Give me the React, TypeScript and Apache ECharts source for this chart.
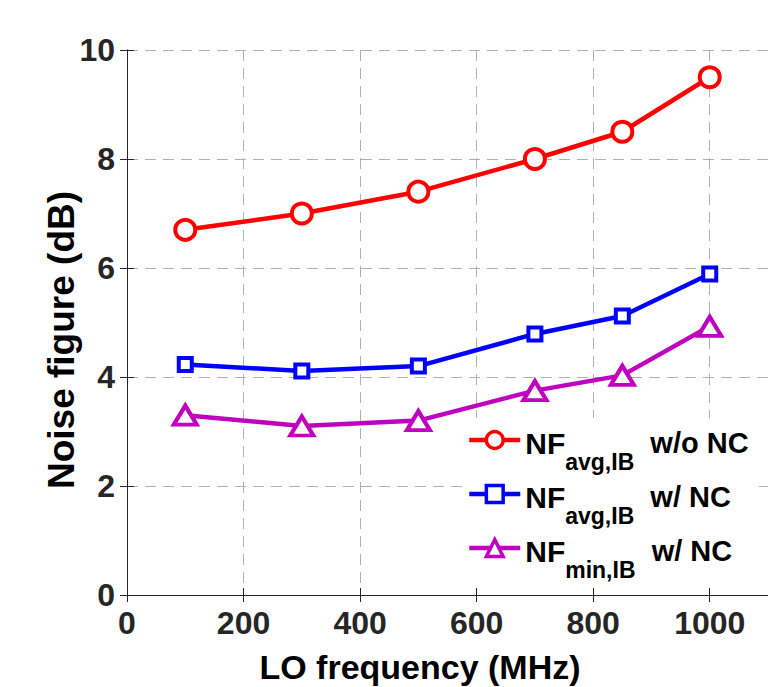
import React, { useEffect, useRef } from "react";
import * as echarts from "echarts";

const loFreq = [100, 300, 500, 700, 850, 1000];
const nfAvgNoNC = [6.7, 7.0, 7.4, 8.0, 8.5, 9.5];
const nfAvgNC = [4.23, 4.11, 4.2, 4.79, 5.12, 5.89];
const nfMinNC = [3.3, 3.1, 3.2, 3.75, 4.03, 4.93];

const seriesNames = ["NFavgNoNC", "NFavgNC", "NFminNC"];
const legendMain = ["NF", "NF", "NF"];
const legendSub = ["avg,IB", "avg,IB", "min,IB"];
const legendTail = ["w/o NC", "w/ NC", "w/ NC"];

const xTitle = "LO frequency (MHz)";
const yTitle = "Noise figure (dB)";

const FONT = "'Liberation Sans', Arial, Helvetica, sans-serif";

export default function App() {
  const ref = useRef<HTMLDivElement>(null);
  useEffect(() => {
    document.body.style.margin = "0";
    if (!ref.current) return;
    const chart = echarts.init(ref.current, null, { renderer: "svg" });
    const pair = (ys: number[]) => loFreq.map((x, i) => [x, ys[i]]);
    const axisLineStyle = { color: "#262626", width: 1 };
    const gridLine = { show: true, lineStyle: { color: "#b0b0b0", type: [11, 7] as any, width: 1 } };
    const mk = (name: string, data: number[], color: string, symbol: string, size: any) => ({
      name,
      type: "line",
      xAxisIndex: 0,
      yAxisIndex: 0,
      data: pair(data),
      symbol,
      symbolSize: size,
      showAllSymbol: true,
      lineStyle: { color, width: 4.5 },
      itemStyle: { color: "#ffffff", borderColor: color, borderWidth: 4 },
      z: 3,
    });
    chart.setOption({
      animation: false,
      backgroundColor: "#ffffff",
      grid: { left: 127, right: -4, top: 50, bottom: 92, containLabel: false },
      xAxis: [
        {
          type: "value",
          min: 0,
          max: 1100,
          interval: 200,
          position: "bottom",
          axisLine: { show: true, lineStyle: axisLineStyle },
          axisTick: { show: true, inside: true, length: 7, lineStyle: axisLineStyle },
          axisLabel: {
            show: true,
            showMaxLabel: false,
            margin: 12,
            color: "#262626",
            fontSize: 32,
            fontWeight: "bold",
            fontFamily: FONT,
            formatter: (v: number) => String(v),
          },
          splitLine: gridLine,
        },
        {
          type: "value",
          min: 0,
          max: 1100,
          interval: 200,
          position: "top",
          axisLine: { show: true, lineStyle: axisLineStyle },
          axisTick: { show: true, inside: true, length: 7, lineStyle: axisLineStyle },
          axisLabel: { show: false },
          splitLine: { show: false },
        },
      ],
      yAxis: [
        {
          type: "value",
          min: 0,
          max: 10,
          interval: 2,
          position: "left",
          axisLine: { show: true, lineStyle: axisLineStyle },
          axisTick: { show: true, inside: true, length: 7, lineStyle: axisLineStyle },
          axisLabel: {
            show: true,
            margin: 12,
            color: "#262626",
            fontSize: 32,
            fontWeight: "bold",
            fontFamily: FONT,
            formatter: (v: number) => String(v),
          },
          splitLine: gridLine,
        },
        {
          type: "value",
          min: 0,
          max: 10,
          interval: 2,
          position: "right",
          axisLine: { show: true, lineStyle: axisLineStyle },
          axisTick: { show: true, inside: true, length: 7, lineStyle: axisLineStyle },
          axisLabel: { show: false },
          splitLine: { show: false },
        },
      ],
      legend: {
        orient: "vertical",
        left: 463,
        top: 418,
        padding: [5, 10, 6, 4],
        itemGap: 4,
        itemWidth: 51,
        itemHeight: 21,
        backgroundColor: "#ffffff",
        borderWidth: 0,
        lineStyle: { width: 4.5 },
        itemStyle: { borderWidth: 3.5 },
        data: seriesNames,
        formatter: (name: string) => {
          const i = seriesNames.indexOf(name);
          return `{n|${legendMain[i]}}{s|${legendSub[i]}}{t|  ${legendTail[i]}}`;
        },
        textStyle: {
          fontFamily: FONT,
          fontWeight: "bold",
          color: "#000000",
          rich: {
            n: { fontSize: 30, fontWeight: "bold", fontFamily: FONT, color: "#000", lineHeight: 34, padding: [5, 0, 0, 0], verticalAlign: "top" },
            s: { fontSize: 23, fontWeight: "bold", fontFamily: FONT, color: "#000", lineHeight: 22, padding: [27, 0, 0, 0], verticalAlign: "top" },
            t: { fontSize: 29, fontWeight: "bold", fontFamily: FONT, color: "#000", lineHeight: 32, padding: [5, 0, 0, 0], verticalAlign: "top" },
          },
        },
      },
      graphic: [
        {
          type: "text",
          x: 420,
          y: 667,
          style: {
            text: xTitle,
            font: `bold 34px ${FONT}`,
            fill: "#000000",
            align: "center",
            verticalAlign: "middle",
          },
          z: 10,
        },
        {
          type: "text",
          x: 61,
          y: 340,
          rotation: Math.PI / 2,
          style: {
            text: yTitle,
            font: `bold 37px ${FONT}`,
            fill: "#000000",
            align: "center",
            verticalAlign: "middle",
          },
          z: 10,
        },
      ],
      series: [
        mk(seriesNames[0], nfAvgNoNC, "#ff0000", "circle", 20),
        mk(seriesNames[1], nfAvgNC, "#0000ff", "rect", 13),
        mk(seriesNames[2], nfMinNC, "#bf00bf", "triangle", [23, 19]),
      ],
    });
    return () => chart.dispose();
  }, []);
  return <div ref={ref} style={{ width: 768, height: 687 }} />;
}
